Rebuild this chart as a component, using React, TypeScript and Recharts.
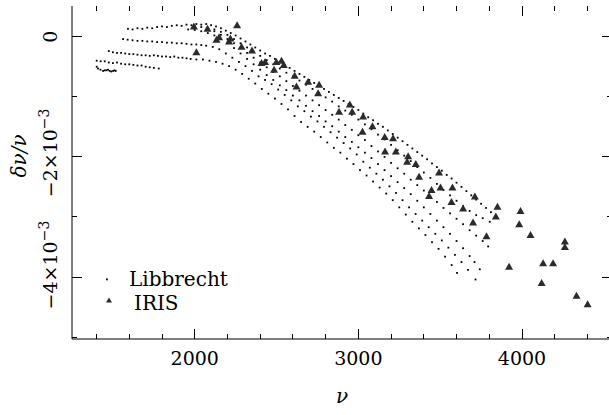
import { ScatterChart, Scatter, XAxis, YAxis, Legend } from 'recharts';

// frequency nu (microHz), delta nu / nu in units of 1e-3
const ridge1: [number, number][] = [
  [1401, -0.5], [1409, -0.53], [1424, -0.55], [1440, -0.57], [1450, -0.56], [1460, -0.56],
  [1470, -0.55], [1480, -0.57], [1490, -0.58], [1501, -0.57], [1510, -0.56], [1517, -0.57],
];

const ridge2: [number, number][] = [
  [1401, -0.4], [1425, -0.41], [1450, -0.41], [1475, -0.43], [1500, -0.44], [1525, -0.43],
  [1550, -0.45], [1575, -0.46], [1600, -0.46], [1625, -0.47], [1650, -0.48], [1675, -0.48],
  [1700, -0.5], [1725, -0.51], [1750, -0.52], [1780, -0.53],
];

const ridge3: [number, number][] = [
  [1475, -0.24], [1500, -0.26], [1525, -0.27], [1550, -0.27], [1575, -0.28], [1600, -0.29],
  [1625, -0.29], [1650, -0.3], [1675, -0.31], [1700, -0.31], [1725, -0.32], [1750, -0.31],
  [1775, -0.32], [1800, -0.33], [1825, -0.33], [1850, -0.34], [1875, -0.33], [1900, -0.35],
  [1925, -0.35], [1950, -0.36], [1975, -0.37], [2010, -0.38], [2050, -0.38], [2090, -0.4],
  [2130, -0.42], [2170, -0.45], [2210, -0.49], [2250, -0.55], [2290, -0.62], [2330, -0.7],
  [2370, -0.78], [2410, -0.87], [2450, -0.95], [2490, -1.03], [2530, -1.12], [2570, -1.21],
  [2610, -1.32], [2650, -1.42], [2690, -1.5], [2730, -1.58], [2770, -1.67], [2810, -1.76],
  [2850, -1.85], [2890, -1.93], [2930, -2.03], [2970, -2.12], [3010, -2.22], [3050, -2.31],
  [3090, -2.41], [3130, -2.51], [3170, -2.61], [3210, -2.72], [3250, -2.84], [3290, -2.96],
  [3330, -3.08], [3370, -3.19], [3410, -3.3], [3450, -3.42], [3490, -3.53], [3530, -3.66],
  [3570, -3.8], [3603, -3.93],
];

const ridge4: [number, number][] = [
  [1562, -0.04], [1590, -0.05], [1620, -0.06], [1650, -0.07], [1680, -0.07], [1710, -0.08],
  [1740, -0.08], [1770, -0.09], [1800, -0.09], [1830, -0.1], [1860, -0.1], [1890, -0.11],
  [1920, -0.11], [1950, -0.12], [1980, -0.13], [2010, -0.13], [2040, -0.14], [2070, -0.15],
  [2110, -0.17], [2150, -0.21], [2190, -0.28], [2230, -0.35], [2270, -0.42], [2310, -0.49],
  [2350, -0.57], [2390, -0.66], [2430, -0.72], [2470, -0.79], [2510, -0.88], [2550, -0.97],
  [2590, -1.06], [2630, -1.16], [2670, -1.24], [2710, -1.33], [2750, -1.41], [2790, -1.5],
  [2830, -1.59], [2870, -1.68], [2910, -1.77], [2950, -1.86], [2990, -1.96], [3030, -2.08],
  [3070, -2.18], [3110, -2.28], [3150, -2.38], [3190, -2.49], [3230, -2.6], [3270, -2.72],
  [3310, -2.84], [3350, -2.95], [3390, -3.06], [3430, -3.17], [3470, -3.28], [3510, -3.39],
  [3550, -3.51], [3590, -3.63], [3630, -3.75], [3670, -3.88], [3716, -4.04],
];

const ridge5: [number, number][] = [
  [1960, 0.12], [2000, 0.11], [2040, 0.09], [2080, 0.06], [2120, 0.02], [2160, -0.04],
  [2200, -0.11], [2240, -0.19], [2280, -0.28], [2320, -0.37], [2360, -0.46], [2400, -0.55],
  [2440, -0.64], [2480, -0.72], [2520, -0.81], [2560, -0.89], [2600, -0.98], [2640, -1.06],
  [2680, -1.15], [2720, -1.24], [2760, -1.32], [2800, -1.41], [2840, -1.49], [2880, -1.58],
  [2920, -1.67], [2960, -1.75], [3000, -1.84], [3040, -1.93], [3080, -2.02], [3120, -2.12],
  [3160, -2.22], [3200, -2.32], [3240, -2.42], [3280, -2.52], [3320, -2.62], [3360, -2.73],
  [3400, -2.84], [3440, -2.95], [3480, -3.06], [3520, -3.17], [3560, -3.28], [3600, -3.4],
  [3640, -3.52], [3680, -3.65], [3710, -3.75], [3742, -3.87],
];

const ridge6: [number, number][] = [
  [2000, 0.18], [2040, 0.16], [2080, 0.13], [2120, 0.09], [2160, 0.03], [2200, -0.04],
  [2240, -0.11], [2280, -0.19], [2320, -0.27], [2360, -0.35], [2400, -0.43], [2440, -0.51],
  [2480, -0.59], [2520, -0.66], [2560, -0.74], [2600, -0.82], [2640, -0.9], [2680, -0.98],
  [2720, -1.06], [2760, -1.14], [2800, -1.22], [2840, -1.3], [2880, -1.38], [2920, -1.47],
  [2960, -1.55], [3000, -1.64], [3040, -1.72], [3080, -1.82], [3120, -1.91], [3160, -2.0],
  [3200, -2.1], [3240, -2.19], [3280, -2.28], [3320, -2.38], [3360, -2.47], [3400, -2.56],
  [3440, -2.66], [3480, -2.75], [3520, -2.85], [3560, -2.94], [3600, -3.03], [3640, -3.12],
  [3680, -3.22], [3720, -3.31], [3760, -3.4], [3793, -3.49],
];

const ridge7: [number, number][] = [
  [2080, 0.15], [2120, 0.12], [2160, 0.08], [2200, 0.03], [2240, -0.04], [2280, -0.11],
  [2320, -0.18], [2360, -0.25], [2400, -0.32], [2440, -0.39], [2480, -0.46], [2520, -0.53],
  [2560, -0.6], [2600, -0.66], [2640, -0.73], [2680, -0.8], [2720, -0.87], [2760, -0.94],
  [2800, -1.01], [2840, -1.08], [2880, -1.16], [2920, -1.23], [2960, -1.3], [3000, -1.38],
  [3040, -1.46], [3080, -1.54], [3120, -1.63], [3160, -1.71], [3200, -1.8], [3240, -1.89],
  [3280, -1.98], [3320, -2.07], [3360, -2.17], [3400, -2.26], [3440, -2.35], [3480, -2.45],
  [3520, -2.55], [3560, -2.64], [3600, -2.73], [3640, -2.82], [3680, -2.9], [3720, -2.97],
  [3760, -3.02], [3803, -3.08],
];

const ridge8: [number, number][] = [
  [1592, 0.13], [1620, 0.12], [1650, 0.14], [1680, 0.13], [1710, 0.15], [1740, 0.14],
  [1770, 0.16], [1800, 0.17], [1830, 0.16], [1860, 0.18], [1890, 0.19], [1920, 0.18],
  [1950, 0.2], [1980, 0.19], [2010, 0.21], [2040, 0.2], [2070, 0.21], [2100, 0.19],
  [2130, 0.17], [2160, 0.14], [2190, 0.1], [2220, 0.06], [2250, 0.02], [2280, -0.03],
  [2310, -0.08], [2340, -0.13], [2370, -0.18], [2400, -0.23], [2430, -0.28], [2460, -0.32],
  [2490, -0.37], [2520, -0.42], [2550, -0.47], [2580, -0.52], [2610, -0.57], [2640, -0.62],
  [2670, -0.67], [2700, -0.72], [2730, -0.77], [2760, -0.82], [2790, -0.87], [2820, -0.92],
  [2850, -0.97], [2880, -1.02], [2910, -1.07], [2940, -1.12], [2970, -1.17], [3000, -1.22],
  [3030, -1.28], [3060, -1.34], [3090, -1.39], [3120, -1.45], [3150, -1.5], [3180, -1.56],
  [3210, -1.62], [3240, -1.68], [3270, -1.74], [3300, -1.8], [3330, -1.86], [3360, -1.92],
  [3390, -1.98], [3420, -2.04], [3450, -2.11], [3480, -2.17], [3510, -2.23], [3540, -2.3],
  [3570, -2.36], [3600, -2.43], [3630, -2.5], [3660, -2.57], [3690, -2.64], [3720, -2.71],
  [3750, -2.78], [3780, -2.85], [3810, -2.92],
];

const irisPoints: [number, number][] = [
  [1995, 0.17], [2010, -0.26], [2078, 0.13], [2133, -0.05], [2149, -0.01], [2210, -0.08],
  [2218, -0.03], [2259, 0.19], [2286, -0.17], [2350, -0.23], [2408, -0.44], [2430, -0.42],
  [2485, -0.55], [2499, -0.42], [2530, -0.4], [2544, -0.47], [2611, -0.65], [2622, -0.83],
  [2693, -0.75], [2754, -0.94], [2760, -0.8], [2882, -1.25], [2948, -1.13], [2962, -1.25],
  [3025, -1.58], [3029, -1.33], [3086, -1.49], [3161, -1.67], [3163, -1.91], [3212, -1.69],
  [3229, -1.91], [3298, -2.08], [3304, -1.99], [3351, -2.12], [3371, -2.33], [3432, -2.65],
  [3447, -2.55], [3493, -2.26], [3502, -2.51], [3569, -2.75], [3575, -2.51], [3640, -2.86],
  [3701, -3.09], [3712, -2.66], [3783, -3.32], [3840, -2.99], [3850, -2.83], [3921, -3.83],
  [3983, -3.12], [3991, -2.9], [4052, -3.3], [4120, -4.1], [4129, -3.77], [4190, -3.77],
  [4262, -3.41], [4262, -3.5], [4333, -4.31], [4401, -4.45],
];

const xTicks = [1400, 1600, 1800, 2000, 2200, 2400, 2600, 2800, 3000, 3200, 3400, 3600, 3800, 4000, 4200, 4400];
const xMajor = [2000, 3000, 4000];
const yTicks = [-5, -4, -3, -2, -1, 0];
const yMajor = [0, -2, -4];

const libbrecht = [ridge1, ridge2, ridge3, ridge4, ridge5, ridge6, ridge7, ridge8]
  .flat()
  .map(([x, y]) => ({ x, y }));
const iris = irisPoints.map(([x, y]) => ({ x, y }));

const FONT = '"DejaVu Serif", serif';
const LEFT = 72;
const RIGHT = 612;
const TOP = 6;
const BOTTOM = 339;

// label nudges so the rotated labels sit where the original has them
const yLabelShift: Record<number, number> = { 0: 0, '-2': -4, '-4': -12 };

function XTick(props: any) {
  const { x, payload } = props;
  const major = xMajor.includes(payload.value);
  const len = major ? 10 : 5;
  return (
    <g>
      <line x1={x} x2={x} y1={BOTTOM} y2={BOTTOM - len} stroke="#000" shapeRendering="crispEdges" />
      <line x1={x} x2={x} y1={TOP} y2={TOP + len} stroke="#000" shapeRendering="crispEdges" />
      {major && (
        <text x={x} y={BOTTOM + 26} textAnchor="middle" fontFamily={FONT} fontSize={19} fill="#000">
          {payload.value}
        </text>
      )}
    </g>
  );
}

function YTick(props: any) {
  const { y, payload } = props;
  const v = payload.value;
  const major = yMajor.includes(v);
  const len = major ? 10 : 5;
  const cy = y + (yLabelShift[v] ?? 0);
  return (
    <g>
      <line x1={LEFT} x2={LEFT + len} y1={y} y2={y} stroke="#000" shapeRendering="crispEdges" />
      <line x1={RIGHT} x2={RIGHT - len} y1={y} y2={y} stroke="#000" shapeRendering="crispEdges" />
      {major && (
        <text
          transform={`translate(57, ${cy}) rotate(-90)`}
          textAnchor="middle"
          fontFamily={FONT}
          fontSize={19}
          fill="#000"
        >
          {v === 0 ? (
            '0'
          ) : (
            <>
              {`\u2212${-v}\u00d710`}
              <tspan dy={-8} fontSize={14}>
                {'\u22123'}
              </tspan>
            </>
          )}
        </text>
      )}
    </g>
  );
}

const Dot = (p: any) => <rect x={p.cx - 0.9} y={p.cy - 0.9} width={1.8} height={1.8} fill="#000" />;

const Tri = (p: any) => (
  <polygon
    points={`${p.cx - 4},${p.cy + 3} ${p.cx + 4},${p.cy + 3} ${p.cx},${p.cy - 4}`}
    fill="#2b2b2b"
  />
);

function LegendBox() {
  return (
    <svg width={200} height={60} style={{ display: 'block' }}>
      <rect x={16} y={18.5} width={1.8} height={1.8} fill="#000" />
      <text x={39} y={26} fontFamily={FONT} fontSize={20} fill="#000">
        Libbrecht
      </text>
      <polygon points="16,42.5 22,42.5 19,37.5" fill="#2b2b2b" />
      <text x={44} y={50} fontFamily={FONT} fontSize={20} fill="#000">
        IRIS
      </text>
    </svg>
  );
}

export default function App() {
  return (
    <div
      style={{
        position: 'absolute',
        left: 0,
        top: 0,
        width: 609,
        height: 415,
        overflow: 'hidden',
        background: '#fff',
      }}
    >
      <ScatterChart width={620} height={415} margin={{ top: TOP, right: 8, bottom: 0, left: 0 }}>
        <XAxis
          dataKey="x"
          type="number"
          domain={[1250, 4550]}
          ticks={xTicks}
          interval={0}
          height={76}
          tickSize={0}
          tickLine={false}
          tick={<XTick />}
          axisLine={{ stroke: '#000' }}
          allowDataOverflow
          label={{
            value: '\u03bd',
            position: 'insideBottom',
            offset: 12,
            fontFamily: FONT,
            fontSize: 20,
            fontStyle: 'italic',
            fill: '#000',
          }}
        />
        <XAxis
          xAxisId="top"
          orientation="top"
          type="number"
          domain={[1250, 4550]}
          height={0}
          tick={false}
          tickLine={false}
          axisLine={{ stroke: '#000' }}
        />
        <YAxis
          dataKey="y"
          type="number"
          domain={[-5.03, 0.51]}
          ticks={yTicks}
          interval={0}
          width={LEFT}
          tickSize={0}
          tickLine={false}
          tick={<YTick />}
          axisLine={{ stroke: '#000' }}
          allowDataOverflow
          label={{
            value: '\u03b4\u03bd/\u03bd',
            angle: -90,
            position: 'insideLeft',
            offset: 19,
            fontFamily: FONT,
            fontSize: 20,
            fontStyle: 'italic',
            fill: '#000',
            dy: 5,
          }}
        />
        <Legend
          layout="vertical"
          align="center"
          verticalAlign="middle"
          wrapperStyle={{ left: 90, top: 260, width: 200, height: 60 }}
          content={() => <LegendBox />}
        />
        <Scatter name="Libbrecht" data={libbrecht} shape={Dot} isAnimationActive={false} />
        <Scatter name="IRIS" data={iris} shape={Tri} isAnimationActive={false} />
      </ScatterChart>
    </div>
  );
}
